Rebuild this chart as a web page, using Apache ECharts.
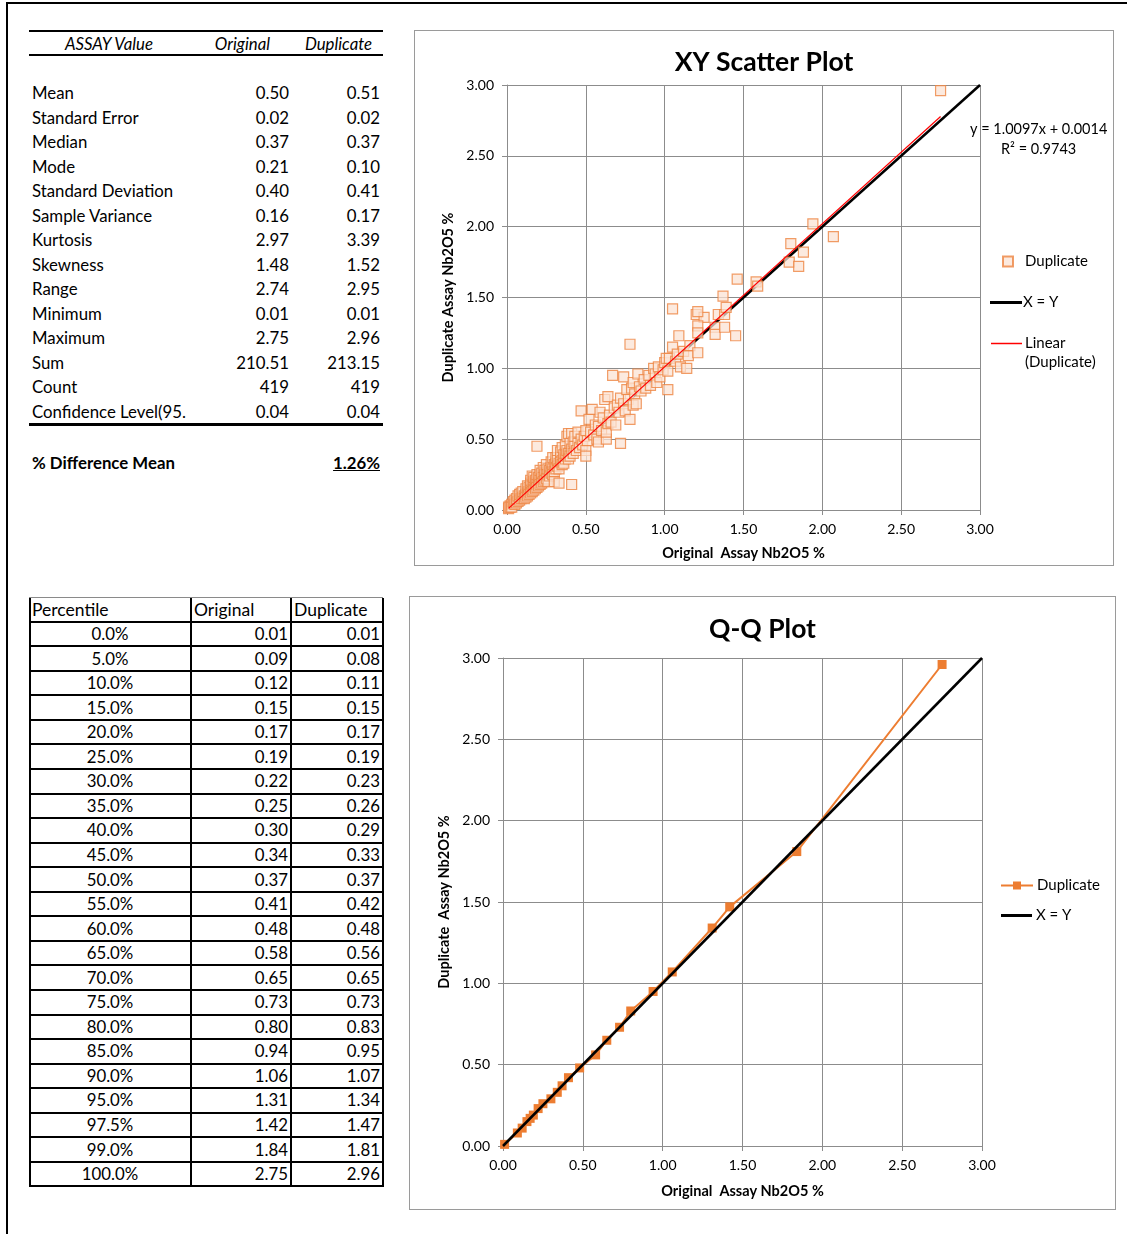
<!DOCTYPE html>
<html><head><meta charset="utf-8">
<script src="https://cdn.jsdelivr.net/npm/echarts@6/dist/echarts.min.js"></script>
<style>
body{margin:0;width:1127px;height:1234px;position:relative;background:#fff;font-family:Lato,"Open Sans",sans-serif;overflow:hidden}
.abs{position:absolute}
.t{position:absolute;font-size:16.8px;line-height:20px;white-space:nowrap;color:#000}
</style></head><body>
<div class="abs" style="left:6px;top:2px;width:2px;height:1232px;background:#000"></div>
<div class="abs" style="left:6px;top:2px;width:1121px;height:2px;background:#000"></div>
<div class="abs" style="left:414px;top:30px;width:700px;height:536px;box-sizing:border-box;border:1px solid #9a9a9a"></div>
<div class="abs" style="left:409px;top:596px;width:707px;height:614px;box-sizing:border-box;border:1px solid #9a9a9a"></div>
<div id="c1" class="abs" style="left:414px;top:30px;width:700px;height:536px"></div>
<div id="c2" class="abs" style="left:409px;top:596px;width:707px;height:614px"></div>
<script>
// ---------- DATA ----------
const statLabels = ['Mean','Standard Error','Median','Mode','Standard Deviation','Sample Variance','Kurtosis','Skewness','Range','Minimum','Maximum','Sum','Count','Confidence Level(95.'];
const statOriginal = ['0.50','0.02','0.37','0.21','0.40','0.16','2.97','1.48','2.74','0.01','2.75','210.51','419','0.04'];
const statDuplicate = ['0.51','0.02','0.37','0.10','0.41','0.17','3.39','1.52','2.95','0.01','2.96','213.15','419','0.04'];
const pctDifferenceMean = '1.26%';

const percentiles = ['0.0%','5.0%','10.0%','15.0%','20.0%','25.0%','30.0%','35.0%','40.0%','45.0%','50.0%','55.0%','60.0%','65.0%','70.0%','75.0%','80.0%','85.0%','90.0%','95.0%','97.5%','99.0%','100.0%'];
const pctOriginal = [0.01,0.09,0.12,0.15,0.17,0.19,0.22,0.25,0.30,0.34,0.37,0.41,0.48,0.58,0.65,0.73,0.80,0.94,1.06,1.31,1.42,1.84,2.75];
const pctDuplicate = [0.01,0.08,0.11,0.15,0.17,0.19,0.23,0.26,0.29,0.33,0.37,0.42,0.48,0.56,0.65,0.73,0.83,0.95,1.07,1.34,1.47,1.81,2.96];

const axisTicks = [0,0.5,1,1.5,2,2.5,3];

// [original, duplicate] pairs
const duplicatePairs = [
[0.01,0.01],[0.01,0.02],[0.02,0.03],[0.02,0.02],[0.03,0.04],[0.03,0.02],[0.04,0.05],[0.04,0.06],[0.05,0.04],[0.05,0.07],[0.06,0.05],[0.06,0.08],[0.07,0.06],[0.07,0.10],[0.08,0.07],[0.08,0.11],[0.09,0.08],[0.09,0.12],[0.10,0.09],[0.10,0.13],[0.11,0.10],[0.11,0.08],
[0.12,0.11],[0.12,0.15],[0.12,0.09],[0.13,0.12],[0.13,0.17],[0.13,0.10],[0.14,0.13],[0.14,0.16],[0.14,0.11],[0.15,0.15],[0.15,0.19],[0.15,0.12],[0.15,0.21],[0.16,0.14],[0.16,0.18],[0.16,0.13],[0.16,0.24],[0.17,0.17],[0.17,0.20],[0.17,0.14],[0.17,0.23],[0.18,0.16],[0.18,0.19],[0.18,0.21],[0.18,0.15],[0.19,0.18],[0.19,0.22],[0.19,0.45],[0.19,0.16],[0.19,0.25],
[0.20,0.19],[0.20,0.23],[0.20,0.17],[0.21,0.21],[0.21,0.25],[0.21,0.18],[0.21,0.28],[0.22,0.22],[0.22,0.19],[0.22,0.26],[0.23,0.23],[0.23,0.30],[0.23,0.20],[0.24,0.25],[0.24,0.21],[0.24,0.28],[0.25,0.26],[0.25,0.22],[0.25,0.32],[0.26,0.25],[0.26,0.29],[0.26,0.20],[0.27,0.28],[0.27,0.24],[0.28,0.30],[0.28,0.26],[0.28,0.34],[0.29,0.29],[0.29,0.25],[0.29,0.37],[0.30,0.32],[0.30,0.27],[0.30,0.20],[0.31,0.33],[0.31,0.29],[0.31,0.37],[0.32,0.31],[0.32,0.35],[0.32,0.42],[0.33,0.33],[0.33,0.19],[0.33,0.29],[0.34,0.37],[0.34,0.34],[0.34,0.41],[0.35,0.35],[0.35,0.32],[0.35,0.44],[0.36,0.37],[0.36,0.39],[0.36,0.33],[0.37,0.36],[0.37,0.40],[0.37,0.46],
[0.38,0.38],[0.38,0.42],[0.38,0.52],[0.39,0.40],[0.39,0.36],[0.39,0.54],[0.40,0.41],[0.40,0.47],[0.40,0.38],[0.41,0.18],[0.41,0.43],[0.41,0.54],[0.42,0.40],[0.42,0.48],[0.43,0.45],[0.43,0.52],[0.44,0.42],[0.45,0.47],[0.45,0.55],[0.46,0.44],[0.47,0.70],[0.47,0.50],[0.48,0.46],[0.49,0.52],[0.50,0.42],[0.50,0.38],[0.50,0.56],[0.51,0.49],[0.52,0.64],[0.53,0.55],[0.54,0.71],[0.55,0.53],[0.56,0.60],[0.57,0.50],[0.58,0.48],[0.58,0.59],[0.59,0.69],[0.60,0.56],[0.61,0.65],[0.62,0.78],[0.63,0.50],[0.63,0.55],[0.64,0.61],[0.64,0.80],[0.65,0.67],[0.66,0.62],[0.67,0.95],[0.68,0.72],[0.69,0.60],[0.70,0.74],[0.71,0.69],[0.72,0.47],[0.72,0.79],
[0.74,0.94],[0.74,0.75],[0.75,0.70],[0.76,0.85],[0.77,0.78],[0.78,0.64],[0.78,1.17],[0.79,0.86],[0.80,0.74],[0.80,0.90],[0.81,0.82],[0.82,0.75],[0.83,0.96],[0.84,0.87],[0.85,0.84],[0.87,0.92],[0.88,0.86],[0.90,0.95],[0.91,0.88],[0.93,1.00],[0.94,0.96],[0.95,0.90],[0.96,1.01],[0.97,0.94],[0.99,0.99],[1.00,1.04],[1.01,1.07],[1.02,0.85],[1.02,0.98],[1.03,1.07],[1.05,1.42],[1.05,1.15],
[1.07,1.05],[1.08,1.10],[1.09,1.23],[1.10,1.01],[1.12,1.12],[1.14,1.00],[1.15,1.09],[1.16,1.16],[1.21,1.11],[1.20,1.38],[1.25,1.36],[1.21,1.30],[1.21,1.25],[1.21,1.40],
[1.32,1.29],[1.32,1.24],[1.34,1.38],[1.38,1.38],[1.38,1.29],[1.37,1.51],[1.39,1.43],[1.46,1.63],[1.45,1.23],[1.58,1.61],[1.59,1.58],[1.80,1.88],[1.79,1.75],[1.85,1.72],[1.88,1.82],[1.94,2.02],[2.07,1.93],[2.75,2.96]
];
const trendSlope = 1.0097;
const trendIntercept = 0.0014;
const trendR2 = '0.9743';
const xyLine = [[0,0],[3,3]];

// ---------- TABLES (HTML) ----------
function addText(str, x, cy, align, style) {
  const d = document.createElement('div');
  d.className = 't';
  d.textContent = str;
  d.style.top = (cy - 10) + 'px';
  if (align === 'right') { d.style.left = (x - 300) + 'px'; d.style.width = '300px'; d.style.textAlign = 'right'; }
  else if (align === 'center') { d.style.left = (x - 150) + 'px'; d.style.width = '300px'; d.style.textAlign = 'center'; }
  else d.style.left = x + 'px';
  if (style) Object.assign(d.style, style);
  document.body.appendChild(d);
}
function addLine(x, y, w, h, color) {
  const d = document.createElement('div');
  d.className = 'abs';
  Object.assign(d.style, {left: x + 'px', top: y + 'px', width: w + 'px', height: h + 'px', background: color || '#000'});
  document.body.appendChild(d);
}
// Summary table
addLine(29, 30, 354, 2);
addText('ASSAY Value', 109, 44, 'center', {fontStyle: 'italic'});
addText('Original', 270, 44, 'right', {fontStyle: 'italic'});
addText('Duplicate', 372, 44, 'right', {fontStyle: 'italic'});
addLine(29, 54, 354, 2);
statLabels.forEach((lab, i) => {
  const cy = 93 + i * 24.54;
  addText(lab, 32, cy, 'left');
  addText(statOriginal[i], 289, cy, 'right');
  addText(statDuplicate[i], 380, cy, 'right');
});
addLine(29, 423, 354, 3);
addText('% Difference Mean', 32, 463, 'left', {fontWeight: 'bold'});
addText(pctDifferenceMean, 380, 463, 'right', {fontWeight: 'bold', textDecoration: 'underline'});

// Percentile table
addLine(29, 597, 354, 1, '#8a8a8a');
const rowH = 24.55;
for (let k = 0; k <= 23; k++) addLine(29, 620.7 + rowH * k, 354, 2);
[29, 190, 290, 382].forEach(x => addLine(x, 598, 2, 589));
addText('Percentile', 32, 610, 'left', {fontSize: '17.5px'});
addText('Original', 194, 610, 'left', {fontSize: '17.5px'});
addText('Duplicate', 294, 610, 'left', {fontSize: '17.5px'});
percentiles.forEach((p, k) => {
  const cy = 634 + rowH * k;
  addText(p, 110, cy, 'center');
  addText(pctOriginal[k].toFixed(2), 288, cy, 'right');
  addText(pctDuplicate[k].toFixed(2), 380, cy, 'right');
});

// ---------- CHARTS ----------
const FONT = 'Lato, "Open Sans", sans-serif';
const GRID_C = '#8c8c8c';
function valueAxis(name, nameGap, isY) {
  return {
    type: 'value', min: 0, max: 3, interval: 0.5,
    name: name, nameLocation: 'middle', nameGap: nameGap,
    nameTextStyle: {fontFamily: FONT, fontWeight: 'bold', fontSize: 14.5, color: '#000'},
    axisLabel: {formatter: v => v.toFixed(2), fontFamily: FONT, fontSize: 14, color: '#000', margin: isY ? 13 : 12},
    axisTick: {show: true, length: 5, lineStyle: {color: GRID_C}},
    axisLine: {show: true, lineStyle: {color: GRID_C, width: 1}},
    splitLine: {show: true, lineStyle: {color: GRID_C, width: 1}}
  };
}
const lgText = {fontFamily: FONT, fontSize: 15, color: '#000'};

const c1 = echarts.init(document.getElementById('c1'), null, {renderer: 'canvas'});
const xs = duplicatePairs.map(p => p[0]);
const xMin = Math.min(...xs), xMax = Math.max(...xs);
const trendLine = [[xMin, trendSlope * xMin + trendIntercept], [xMax, trendSlope * xMax + trendIntercept]];
c1.setOption({
  animation: false,
  textStyle: {fontFamily: FONT},
  title: {text: 'XY Scatter Plot', left: 'center', top: 14, textStyle: {fontFamily: FONT, fontSize: 26.5, fontWeight: 'bold', color: '#000'}},
  grid: {left: 93, top: 55, width: 473, height: 426},
  xAxis: valueAxis('Original  Assay Nb2O5 %', 36, false),
  yAxis: valueAxis('Duplicate Assay Nb2O5 %', 49, true),
  legend: [
    {data: ['Duplicate'], left: 588, top: 224, padding: 0, icon: 'rect', itemWidth: 10, itemHeight: 10, selectedMode: false, textStyle: Object.assign({padding: [0, 0, 0, 7]}, lgText)},
    {data: [{name: 'X = Y', icon: 'rect'}], left: 576, top: 265, padding: 0, itemWidth: 32, itemHeight: 3, selectedMode: false, textStyle: Object.assign({padding: [0, 0, 0, -4]}, lgText)},
    {data: [{name: 'Linear (Duplicate)', icon: 'rect'}], left: 577, top: 306, padding: 0, itemWidth: 31, itemHeight: 1.5, selectedMode: false, formatter: () => 'Linear', textStyle: Object.assign({padding: [0, 0, 0, -2]}, lgText)}
  ],
  graphic: [
    {type: 'text', left: 556, top: 92, style: {text: 'y = ' + trendSlope.toFixed(4) + 'x + ' + trendIntercept.toFixed(4), font: '14.5px ' + FONT, fill: '#000'}},
    {type: 'text', left: 587, top: 112, style: {text: 'R² = ' + trendR2, font: '14.5px ' + FONT, fill: '#000'}},
    {type: 'text', left: 611, top: 325, style: {text: '(Duplicate)', font: '15px ' + FONT, fill: '#000'}}
  ],
  series: [
    {name: 'X = Y', type: 'line', data: xyLine, symbol: 'none', lineStyle: {color: '#000', width: 2.5}, itemStyle: {color: '#000'}, z: 1},
    {name: 'Duplicate', type: 'scatter', data: duplicatePairs, symbol: 'rect', symbolSize: 10,
      itemStyle: {color: 'rgba(251,226,212,0.92)', borderColor: '#EE8541', borderWidth: 1.2}, z: 2},
    {name: 'Linear (Duplicate)', type: 'line', data: trendLine, symbol: 'none', lineStyle: {color: '#FF0000', width: 1.2}, itemStyle: {color: '#FF0000'}, z: 3}
  ]
});

const c2 = echarts.init(document.getElementById('c2'), null, {renderer: 'canvas'});
const qqData = pctOriginal.map((v, i) => [v, pctDuplicate[i]]);
c2.setOption({
  animation: false,
  textStyle: {fontFamily: FONT},
  title: {text: 'Q-Q Plot', left: 'center', top: 15, textStyle: {fontFamily: FONT, fontSize: 26.5, fontWeight: 'bold', color: '#000'}},
  grid: {left: 94, top: 62, width: 479, height: 488},
  xAxis: valueAxis('Original  Assay Nb2O5 %', 38, false),
  yAxis: valueAxis('Duplicate  Assay Nb2O5 %', 48, true),
  legend: [
    {data: ['Duplicate'], left: 591, top: 282, padding: 0, itemWidth: 32, itemHeight: 10, selectedMode: false, textStyle: Object.assign({padding: [0, 0, 0, -1]}, lgText)},
    {data: [{name: 'X = Y', icon: 'rect'}], left: 592, top: 312, padding: 0, itemWidth: 31, itemHeight: 3, selectedMode: false, textStyle: Object.assign({padding: [0, 0, 0, -1]}, lgText)}
  ],
  series: [
    {name: 'Duplicate', type: 'line', data: qqData, symbol: 'rect', symbolSize: 9, showSymbol: true,
      lineStyle: {color: '#ED7D31', width: 2}, itemStyle: {color: '#ED7D31'}, z: 2},
    {name: 'X = Y', type: 'line', data: xyLine, symbol: 'none', lineStyle: {color: '#000', width: 2.5}, itemStyle: {color: '#000'}, z: 3}
  ]
});
</script>
</body></html>
